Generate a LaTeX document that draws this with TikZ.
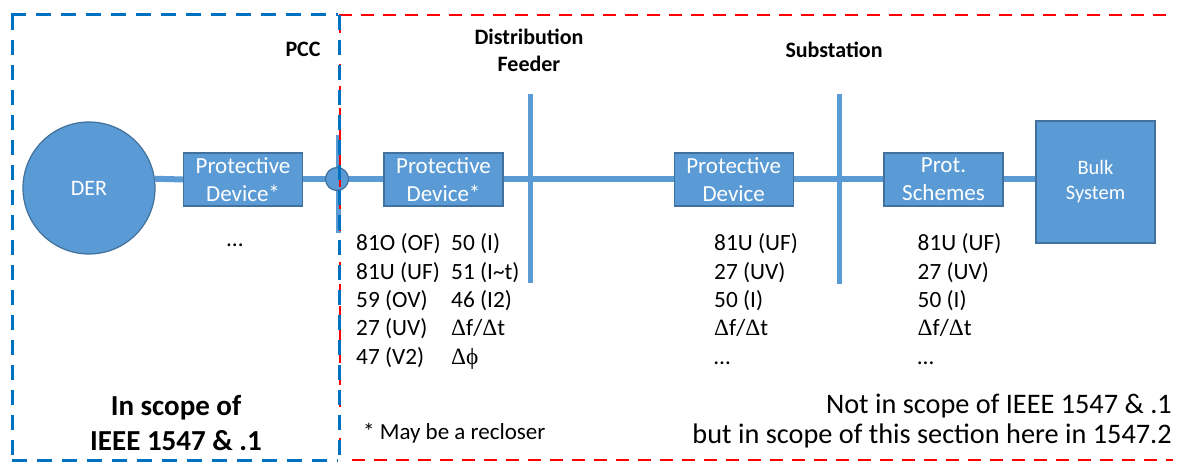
\documentclass[tikz,border=0pt]{standalone}
\usepackage{fontspec}
\setmainfont{Carlito}
\newfontfamily\symf{Liberation Serif}
\definecolor{lblue}{HTML}{5B9BD5}
\definecolor{bedge}{HTML}{41719C}
\definecolor{dblue}{HTML}{0070C0}
\definecolor{dred}{HTML}{FF0000}
\begin{document}
\begin{tikzpicture}[x=1pt,y=-1pt,
  box/.style={draw=bedge, line width=1.2pt, fill=lblue, text=white, inner sep=0pt, align=center,
    minimum width=119pt, minimum height=53pt, font=\fontsize{23}{28}\selectfont},
  bus/.style={draw=lblue, line width=6pt},
  vbus/.style={draw=lblue, line width=5pt},
  bdash/.style={draw=dblue, line width=3pt, dash pattern=on 15pt off 10pt},
  rdash/.style={draw=dred, line width=2.8pt, dash pattern=on 13pt off 9pt},
  lbl/.style={font=\fontsize{22}{27}\selectfont\bfseries, align=center, inner sep=0pt},
  lst/.style={font=\fontsize{23.3}{28}\selectfont, inner sep=0pt},
  note/.style={font=\fontsize{28.3}{30}\selectfont, inner sep=0pt}]
\useasboundingbox (0,0) rectangle (1177,462);

% vertical buses
\coordinate (fT) at (530,94); \coordinate (fB) at (530,283);
\coordinate (sT) at (839,94); \coordinate (sB) at (839,284);
\coordinate (pT) at (338,135); \coordinate (pB) at (338,233);
\draw[vbus] (fT) -- (fB);
\draw[vbus] (sT) -- (sB);
\draw[vbus] (pT) -- (pB);

% nodes
\node[circle, draw=bedge, line width=1.2pt, fill=lblue, minimum size=132pt, inner sep=0pt,
  text=white, font=\fontsize{22}{26}\selectfont] (der) at (89,188) {DER};
\node[box] (pd1) at (243,179.5) {Protective\\Device*};
\node[box] (pd2) at (443.5,179.5) {Protective\\Device*};
\node[box] (pd3) at (733.7,179.5) {Protective\\Device};
\node[box] (ps) at (943.5,179.5) {Prot.\\Schemes};
\node[box, minimum height=122pt, font=\fontsize{20.5}{25}\selectfont] (bulk) at (1095.5,182) {Bulk\\System};
\coordinate (pccc) at (337,179);

% horizontal bus
\draw[bus] (der.8) -- (pd1.west);
\draw[bus] (pd1.east) -- (pd2.west);
\draw[bus] (pd2.east) -- (pd3.west);
\draw[bus] (pd3.east) -- (ps.west);
\draw[bus] (ps.east) -- (ps.east -| bulk.west);
\node[circle, draw=bedge, line width=1.2pt, fill=lblue, minimum size=23pt, inner sep=0pt] (pcc) at (pccc) {};

% dashed scope frames
\draw[rdash] (340,20) -- (340,460);
\draw[rdash] (339,15) -- (1173,15);
\draw[rdash] (352,460) -- (1173,460);
\draw[bdash] (11,15) -- (338,15);
\draw[bdash] (12,15) -- (12,460);
\draw[bdash] (12,460) -- (338,460);
\draw[bdash] (339,15) -- (339,460);

% labels
\node[lbl] (pccl) at (303,49) {PCC};
\node[lbl] (dfl) at (529,50) {Distribution\\Feeder};
\node[lbl] (subl) at (834,50) {Substation};
\node[lst] (dots1) at (235,245) {…};

\foreach \t [count=\i] in {81O (OF), 81U (UF), 59 (OV), 27 (UV), 47 (V2)}
  \node[lst, anchor=base west, name=ca\i] at (356,{251+28.25*(\i-1)}) {\t};
\foreach \t [count=\i] in {50 (I), 51 (I\textasciitilde t), 46 (I2), {\symf Δ}f/{\symf Δ}t, {\symf Δϕ}}
  \node[lst, anchor=base west, name=cb\i] at (451,{251+28.25*(\i-1)}) {\t};
\foreach \t [count=\i] in {81U (UF), 27 (UV), 50 (I), {\symf Δ}f/{\symf Δ}t, …}
  \node[lst, anchor=base west, name=cc\i] at (714,{251+28.25*(\i-1)}) {\t};
\foreach \t [count=\i] in {81U (UF), 27 (UV), 50 (I), {\symf Δ}f/{\symf Δ}t, …}
  \node[lst, anchor=base west, name=cd\i] at (917.5,{251+28.25*(\i-1)}) {\t};

\node[font=\fontsize{29}{35}\selectfont\bfseries, align=center, inner sep=0pt] (insc) at (176,423.5) {In scope of\\IEEE 1547 \& .1};
\node[font=\fontsize{23}{28}\selectfont, inner sep=0pt, anchor=west] (recl) at (363,433) {* May be a recloser};
\node[note, anchor=east] (ns1) at (1172,406) {Not in scope of IEEE 1547 \& .1};
\node[note, anchor=east] (ns2) at (1172,436) {but in scope of this section here in 1547.2};
\end{tikzpicture}
\end{document}
